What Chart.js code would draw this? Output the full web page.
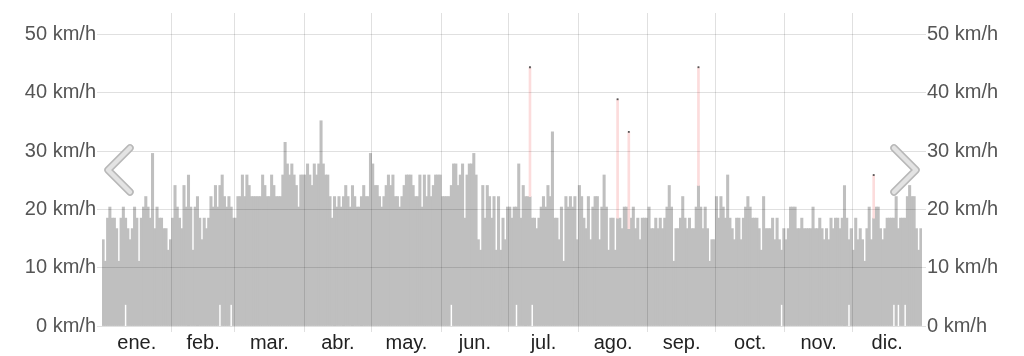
<!DOCTYPE html>
<html><head><meta charset="utf-8">
<script src="https://cdn.jsdelivr.net/npm/chart.js@4"></script>
<style>html,body{margin:0;padding:0;background:#fff}#wrap{width:1024px;height:356px;position:relative}</style>
</head><body><div id="wrap"><canvas id="c" width="1024" height="356"></canvas></div>
<script>
const monthLabels = ['ene.','feb.','mar.','abr.','may.','jun.','jul.','ago.','sep.','oct.','nov.','dic.'];
const monthDays = [31,28,31,30,31,30,31,31,30,31,30,31];
const yTicks = [0,10,20,30,40,50];
const yMax = 53.7;

// daily maximum wind (km/h)
const janMax = [14.8,11.1,18.5,20.4,18.5,18.5,16.7,11.1,18.5,20.4,18.5,16.7,14.8,16.7,20.4,18.5,11.1,18.5,20.4,22.2,20.4,18.5,29.6,16.7,20.4,18.5,18.5,16.7,16.7,13.0,14.8];
const febMax = [18.5,24.1,20.4,18.5,16.7,24.1,20.4,25.9,20.4,13.0,20.4,22.2,18.5,14.8,18.5,16.7,18.5,22.2,20.4,24.1,20.4,24.1,25.9,22.2,20.4,22.2,20.4,18.5];
const marMax = [18.5,22.2,22.2,25.9,22.2,25.9,24.1,22.2,22.2,22.2,22.2,22.2,25.9,24.1,22.2,22.2,25.9,24.1,22.2,22.2,22.2,25.9,31.5,27.8,25.9,27.8,25.9,24.1,20.4,25.9,25.9];
const aprMax = [25.9,27.8,25.9,24.1,27.8,25.9,27.8,35.2,27.8,25.9,25.9,22.2,18.5,22.2,20.4,22.2,20.4,22.2,24.1,22.2,20.4,24.1,22.2,20.4,20.4,22.2,24.1,22.2,22.2,29.6];
const mayMax = [27.8,24.1,24.1,22.2,20.4,22.2,24.1,25.9,24.1,25.9,22.2,22.2,20.4,22.2,24.1,25.9,25.9,25.9,24.1,22.2,22.2,25.9,20.4,25.9,22.2,25.9,22.2,24.1,25.9,25.9,25.9];
const junMax = [22.2,22.2,22.2,22.2,24.1,27.8,27.8,24.1,25.9,27.8,18.5,25.9,27.8,27.8,29.6,25.9,14.8,13.0,24.1,18.5,24.1,22.2,18.5,22.2,13.0,22.2,13.0,18.5,14.8,20.4];
const julMax = [20.4,18.5,20.4,20.4,27.8,18.5,24.1,22.2,22.2,22.2,18.5,18.5,16.7,18.5,20.4,22.2,20.4,24.1,22.2,33.3,18.5,18.5,14.8,20.4,11.1,22.2,20.4,22.2,20.4,22.2,14.8];
const augMax = [24.1,22.2,18.5,16.7,22.2,14.8,20.4,22.2,22.2,14.8,20.4,25.9,20.4,13.0,18.5,18.5,13.0,18.5,18.5,16.7,20.4,20.4,16.7,18.5,20.4,16.7,18.5,14.8,18.5,18.5,18.5];
const sepMax = [20.4,16.7,16.7,18.5,16.7,18.5,16.7,18.5,20.4,24.1,20.4,11.1,16.7,16.7,18.5,22.2,18.5,16.7,18.5,16.7,16.7,20.4,24.1,20.4,16.7,20.4,16.7,11.1,14.8,14.8];
const octMax = [22.2,18.5,22.2,20.4,18.5,25.9,18.5,16.7,14.8,18.5,18.5,14.8,18.5,20.4,22.2,20.4,18.5,18.5,18.5,16.7,13.0,22.2,16.7,16.7,16.7,18.5,14.8,18.5,14.8,13.0,16.7];
const novMax = [14.8,16.7,20.4,20.4,20.4,16.7,16.7,18.5,16.7,16.7,16.7,16.7,20.4,16.7,16.7,18.5,16.7,14.8,16.7,14.8,18.5,16.7,18.5,18.5,16.7,18.5,24.1,18.5,14.8,16.7];
const decMax = [13.0,18.5,14.8,16.7,14.8,11.1,16.7,20.4,14.8,18.5,20.4,20.4,16.7,14.8,16.7,18.5,18.5,18.5,18.5,22.2,16.7,18.5,18.5,18.5,22.2,24.1,22.2,22.2,16.7,13.0,16.7];

// days (0-based day of year) whose minimum wind was not calm
const raisedMinDays = [10,52,57,155,184,191,302,332,352,354,357];
const raisedMinValue = 3.7;

// gusts (day of year, km/h)
const gustDays = [190,229,234,265,343];
const gustValues = [44.4,38.9,33.3,44.4,25.9];

const dailyMax = [].concat(janMax,febMax,marMax,aprMax,mayMax,junMax,julMax,augMax,sepMax,octMax,novMax,decMax);
const barData = dailyMax.map((v,i)=>({x:i+0.5, y:[raisedMinDays.includes(i)?raisedMinValue:0, v]}));
const gustBars = gustDays.map((d,i)=>({x:d+0.5, y:[dailyMax[d], gustValues[i]]}));
const gustPts = gustDays.map((d,i)=>({x:d+0.5, y:gustValues[i]}));

const bounds = []; let acc = 0;
monthDays.forEach(n=>{ bounds.push(acc); acc += n; });
const mids = monthDays.map((n,i)=>bounds[i]+n/2);
const innerBounds = bounds.slice(1);
const xTickVals = innerBounds.concat(mids).sort((a,b)=>a-b);

const FONT = '"Liberation Sans", Arial, Helvetica, sans-serif';
const gridCol = 'rgba(0,0,0,0.12)';

const arrows = {
  id:'arrows',
  afterDraw(chart){
    const c = chart.ctx, a = chart.chartArea;
    const cy = 170;
    const draw = (pts)=>{
      c.save();
      c.lineCap='round'; c.lineJoin='round';
      c.beginPath(); c.moveTo(pts[0][0],pts[0][1]); c.lineTo(pts[1][0],pts[1][1]); c.lineTo(pts[2][0],pts[2][1]);
      c.strokeStyle='#b8b8b8'; c.lineWidth=7.5; c.stroke();
      c.strokeStyle='#e3e3e3'; c.lineWidth=4.5; c.stroke();
      c.restore();
    };
    draw([[a.left+28,cy-22],[a.left+6,cy],[a.left+28,cy+22]]);
    draw([[a.right-28,cy-22],[a.right-6,cy],[a.right-28,cy+22]]);
  }
};

new Chart(document.getElementById('c'), {
  type:'bar',
  data:{datasets:[
    {type:'scatter', data:gustPts, backgroundColor:'#555', borderWidth:0, pointRadius:1.3, pointStyle:'rect', order:0},
    {type:'bar', data:gustBars, backgroundColor:'#fcdcdc', barThickness:2, grouped:false, borderWidth:0, order:1},
    {type:'bar', data:barData, backgroundColor:'#bfbfbf', barPercentage:1, categoryPercentage:1, grouped:false, borderWidth:0, inflateAmount:0.4, order:2}
  ]},
  options:{
    responsive:false, animation:false, devicePixelRatio:1,
    layout:{padding:{top:13,left:0,right:0,bottom:0}},
    plugins:{legend:{display:false}, tooltip:{enabled:false}},
    scales:{
      x:{type:'linear', min:0, max:365, z:1, offset:false,
        afterBuildTicks:s=>{ s.ticks = xTickVals.map(v=>({value:v})); },
        afterFit:s=>{ s.height = 30; },
        grid:{z:1, offset:false, tickLength:6, color:ctx=> (ctx.tick && innerBounds.includes(ctx.tick.value)) ? gridCol : 'rgba(0,0,0,0)'},
        border:{display:false},
        ticks:{autoSkip:false, maxRotation:0, minRotation:0, padding:-1, color:'#222', font:{family:FONT, size:20},
          callback:v=>{ const i = mids.indexOf(v); return i>=0 ? monthLabels[i] : ''; }}
      },
      y:{type:'linear', position:'left', min:0, max:yMax, z:1,
        afterBuildTicks:s=>{ s.ticks = yTicks.map(v=>({value:v})); },
        afterFit:s=>{ s.width = 102; },
        grid:{z:1, color:gridCol, tickLength:5},
        border:{display:false},
        ticks:{color:'#555', padding:1, font:{family:FONT, size:20}, callback:v=>v+' km/h'}
      },
      y2:{type:'linear', position:'right', min:0, max:yMax,
        afterBuildTicks:s=>{ s.ticks = yTicks.map(v=>({value:v})); },
        afterFit:s=>{ s.width = 102; },
        grid:{drawOnChartArea:false, color:gridCol, tickLength:4},
        border:{display:false},
        ticks:{color:'#555', padding:1, font:{family:FONT, size:20}, callback:v=>v+' km/h'}
      }
    }
  },
  plugins:[arrows]
});
</script></body></html>
